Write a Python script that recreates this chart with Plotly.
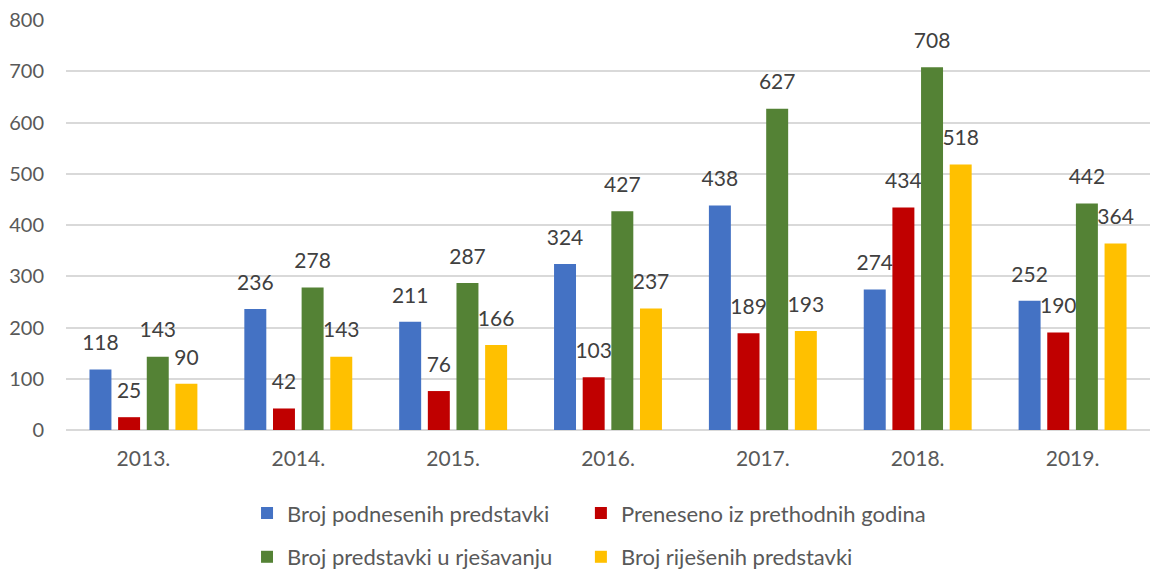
import plotly.graph_objects as go

years = ["2013.", "2014.", "2015.", "2016.", "2017.", "2018.", "2019."]
podnesene = [118, 236, 211, 324, 438, 274, 252]
preneseno = [25, 42, 76, 103, 189, 434, 190]
u_rjesavanju = [143, 278, 287, 427, 627, 708, 442]
rijesene = [90, 143, 166, 237, 193, 518, 364]

names = ["Broj podnesenih predstavki", "Preneseno iz prethodnih godina",
         "Broj predstavki u rješavanju", "Broj riješenih predstavki"]
colors = ["#4472C4", "#C00000", "#548235", "#FFC000"]
series = [podnesene, preneseno, u_rjesavanju, rijesene]
legend_ids = ["legend", "legend2", "legend3", "legend4"]

FONT = "Lato"
LABEL_PAD = 24  # transparent spacer (axis units) between bar top and its label

fig = go.Figure()
for i, (nm, col, vals, lg) in enumerate(zip(names, colors, series, legend_ids)):
    fig.add_trace(go.Bar(
        x=years, y=vals, name=nm, marker_color=col, legend=lg,
        marker_line_width=0, offsetgroup=str(i), hoverinfo="x+y+name",
    ))
    fig.add_trace(go.Bar(
        x=years, y=[LABEL_PAD] * len(vals), base=vals, offsetgroup=str(i),
        marker_color="rgba(0,0,0,0)", marker_line_width=0,
        showlegend=False, hoverinfo="skip",
        text=[str(v) for v in vals], textposition="outside",
        textfont=dict(family=FONT, size=21, color="#404040"),
        constraintext="none", cliponaxis=False,
    ))

col_x = [0.167, 0.475]
row_y = [-0.152, -0.2585]
leg_common = dict(orientation="h", xanchor="left", yanchor="top",
                  font=dict(size=22, color="#595959"), itemwidth=30,
                  bgcolor="rgba(0,0,0,0)")
legend_layout = {}
for k, lg in enumerate(legend_ids):
    legend_layout[lg] = dict(leg_common, x=col_x[k % 2], y=row_y[k // 2])

fig.update_layout(
    width=1166, height=570,
    margin=dict(l=66, r=16, t=20, b=140, autoexpand=False),
    paper_bgcolor="white", plot_bgcolor="white",
    barmode="group", bargap=0.26, bargroupgap=0.233,
    font=dict(family=FONT, color="#595959"),
    xaxis=dict(showgrid=False, showline=False, ticks="outside", ticklen=10,
               tickcolor="rgba(0,0,0,0)", tickfont=dict(size=21, color="#595959")),
    yaxis=dict(range=[0, 800], dtick=100, showgrid=True, gridcolor="#D9D9D9",
               gridwidth=1.5, zeroline=True, zerolinecolor="#D9D9D9", zerolinewidth=1.5,
               ticks="outside", ticklen=17, tickcolor="rgba(0,0,0,0)",
               tickfont=dict(size=20, color="#595959")),
    showlegend=True,
    **legend_layout,
)

fig.write_html("out.html",
               config={"displayModeBar": False},
               post_script="document.body.style.margin='0';document.body.style.overflow='hidden';")
